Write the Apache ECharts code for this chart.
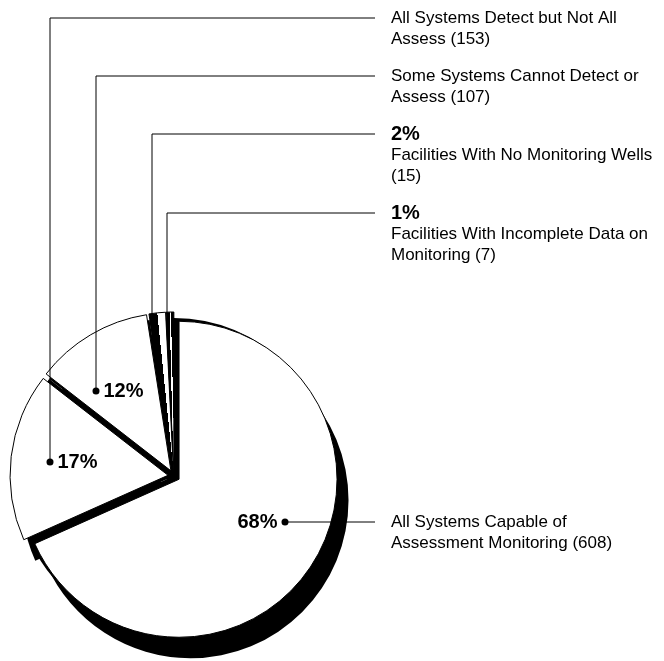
<!DOCTYPE html>
<html>
<head>
<meta charset="utf-8">
<script src="https://cdn.jsdelivr.net/npm/echarts@6/dist/echarts.min.js"></script>
<style>
html,body{margin:0;padding:0;background:#fff;}
#chart{width:664px;height:661px;}
</style>
</head>
<body>
<div id="chart"></div>
<script>
// ---------------- data ----------------
const categories = [
  'All Systems Capable of Assessment Monitoring',
  'All Systems Detect but Not All Assess',
  'Some Systems Cannot Detect or Assess',
  'Facilities With No Monitoring Wells',
  'Facilities With Incomplete Data on Monitoring'
];
const counts = [608, 153, 107, 15, 7];
const percents = [68, 17, 12, 2, 1];
// wrapped text lines of each description (count appended to the last line)
const descLines = [
  ['All Systems Capable of', 'Assessment Monitoring'],
  ['All Systems Detect but Not All', 'Assess'],
  ['Some Systems Cannot Detect or', 'Assess'],
  ['Facilities With No Monitoring Wells', ''],
  ['Facilities With Incomplete Data on', 'Monitoring']
];
const pctInCallout = [false, false, false, true, true];

// ---------------- layout ----------------
const CX = 174, CY = 476, R = 158, EXPLODE = 6;
const DEPTH = [11.5, 21];
const FONT = "'Liberation Sans', Arial, Helvetica, sans-serif";
const calloutAnchor = [[285, 522], [50, 462], [96, 391], [152, 314], [167, 314]];
const calloutLineY = [522, 18, 76, 134, 213];
const TEXT_X = 391, LINE_END_X = 375;
const innerSide = ['right', 'left', 'left', null, null];

// slice angles (clockwise from 12 o'clock, degrees)
const total = counts.reduce((a, b) => a + b, 0);
const startDeg = [], endDeg = [];
counts.reduce((acc, v, i) => { startDeg[i] = acc / total * 360; endDeg[i] = (acc + v) / total * 360; return acc + v; }, 0);

function wedgeGradient(i, stops) {
  const am = (startDeg[i] + endDeg[i]) / 2 * Math.PI / 180;
  const u = [Math.cos(am), Math.sin(am)];
  const hw = R * Math.sin((endDeg[i] - startDeg[i]) / 2 * Math.PI / 180);
  return {
    type: 'linear', global: true,
    x: CX - u[0] * hw, y: CY - u[1] * hw, x2: CX + u[0] * hw, y2: CY + u[1] * hw,
    colorStops: stops
  };
}
const topFill = [
  '#fff', '#fff', '#fff',
  wedgeGradient(3, [{offset: 0, color: '#000'}, {offset: 0.5, color: '#000'}, {offset: 0.5, color: '#fff'}, {offset: 1, color: '#fff'}]),
  wedgeGradient(4, [{offset: 0, color: '#000'}, {offset: 0.45, color: '#000'}, {offset: 0.45, color: '#fff'}, {offset: 0.62, color: '#fff'}, {offset: 0.62, color: '#000'}, {offset: 1, color: '#000'}])
];

const base = {
  type: 'pie', radius: R, startAngle: 90, clockwise: true,
  avoidLabelOverlap: false, silent: true, animation: false,
  emphasis: {disabled: true}
};

function sliceData(extra) {
  return counts.map((v, i) => Object.assign({value: v, name: categories[i]}, extra ? extra(i) : {}));
}

const blackStyle = {color: '#000', borderWidth: 0};

const option = {
  backgroundColor: '#fff',
  animation: false,
  series: [
    // depth (side faces / rim)
    Object.assign({}, base, {
      z: 1,
      center: [CX + DEPTH[0], CY + DEPTH[1]],
      selectedMode: 'multiple', selectedOffset: EXPLODE,
      itemStyle: blackStyle, select: {itemStyle: blackStyle},
      label: {show: false}, labelLine: {show: false},
      data: sliceData(() => ({selected: true}))
    }),
    // dark gaps between exploded slices
    Object.assign({}, base, {
      z: 2,
      center: [CX, CY],
      itemStyle: blackStyle,
      label: {show: false}, labelLine: {show: false},
      data: sliceData()
    }),
    // top faces
    Object.assign({}, base, {
      z: 3,
      center: [CX, CY],
      selectedMode: 'multiple', selectedOffset: EXPLODE,
      itemStyle: {color: '#fff', borderColor: '#000', borderWidth: 1},
      select: {itemStyle: {color: '#fff', borderColor: '#000', borderWidth: 1}},
      label: {show: false}, labelLine: {show: false},
      data: sliceData(i => ({
        selected: true,
        itemStyle: {color: topFill[i]},
        select: {itemStyle: {color: topFill[i]}}
      }))
    }),
    // callout texts with leader lines
    Object.assign({}, base, {
      z: 10,
      center: [CX, CY],
      itemStyle: {color: 'rgba(0,0,0,0)', borderWidth: 0},
      label: {
        show: true, position: 'outside', color: '#000', fontFamily: FONT,
        formatter: p => {
          const i = p.dataIndex;
          const lines = descLines[i].slice();
          const last = lines.pop();
          lines.push((last ? last + ' ' : '') + '(' + counts[i] + ')');
          let s = lines.map(l => '{n|' + l + '}').join('\n');
          if (pctInCallout[i]) s = '{b|' + percents[i] + '%}\n' + s;
          return s;
        },
        rich: {
          n: {fontSize: 17, lineHeight: 21, fontFamily: FONT, color: '#000'},
          b: {fontSize: 20, lineHeight: 21, fontWeight: 'bold', fontFamily: FONT, color: '#000'}
        }
      },
      labelLine: {show: true, smooth: false, lineStyle: {color: '#000', width: 1}},
      labelLayout: p => {
        const i = p.dataIndex;
        const a = calloutAnchor[i], ly = calloutLineY[i];
        return {
          x: TEXT_X, y: ly - 10.5, align: 'left', verticalAlign: 'top',
          labelLinePoints: [[a[0], a[1]], [a[0], ly], [LINE_END_X, ly]]
        };
      },
      data: sliceData()
    }),
    // bold percentages with dots inside the slices
    Object.assign({}, base, {
      z: 11,
      center: [CX, CY],
      itemStyle: {color: 'rgba(0,0,0,0)', borderWidth: 0},
      label: {
        show: true, position: 'inside', color: '#000', fontFamily: FONT,
        formatter: p => {
          const i = p.dataIndex;
          if (!innerSide[i]) return '';
          return innerSide[i] === 'left'
            ? '{d|}{p|' + percents[i] + '%}'
            : '{q|' + percents[i] + '%}{d|}';
        },
        rich: {
          d: {width: 7, height: 7, borderRadius: 3.5, backgroundColor: '#000'},
          p: {fontSize: 20, fontWeight: 'bold', fontFamily: FONT, color: '#000', padding: [0, 0, 0, 4]},
          q: {fontSize: 20, fontWeight: 'bold', fontFamily: FONT, color: '#000', padding: [0, 4, 0, 0]}
        }
      },
      labelLine: {show: false},
      labelLayout: p => {
        const i = p.dataIndex;
        const a = calloutAnchor[i];
        if (!innerSide[i]) return {};
        return innerSide[i] === 'left'
          ? {x: a[0] - 3.5, y: a[1], align: 'left', verticalAlign: 'middle'}
          : {x: a[0] + 3.5, y: a[1], align: 'right', verticalAlign: 'middle'};
      },
      data: sliceData()
    })
  ]
};

const chart = echarts.init(document.getElementById('chart'), null, {renderer: 'canvas'});
chart.setOption(option);
</script>
</body>
</html>
